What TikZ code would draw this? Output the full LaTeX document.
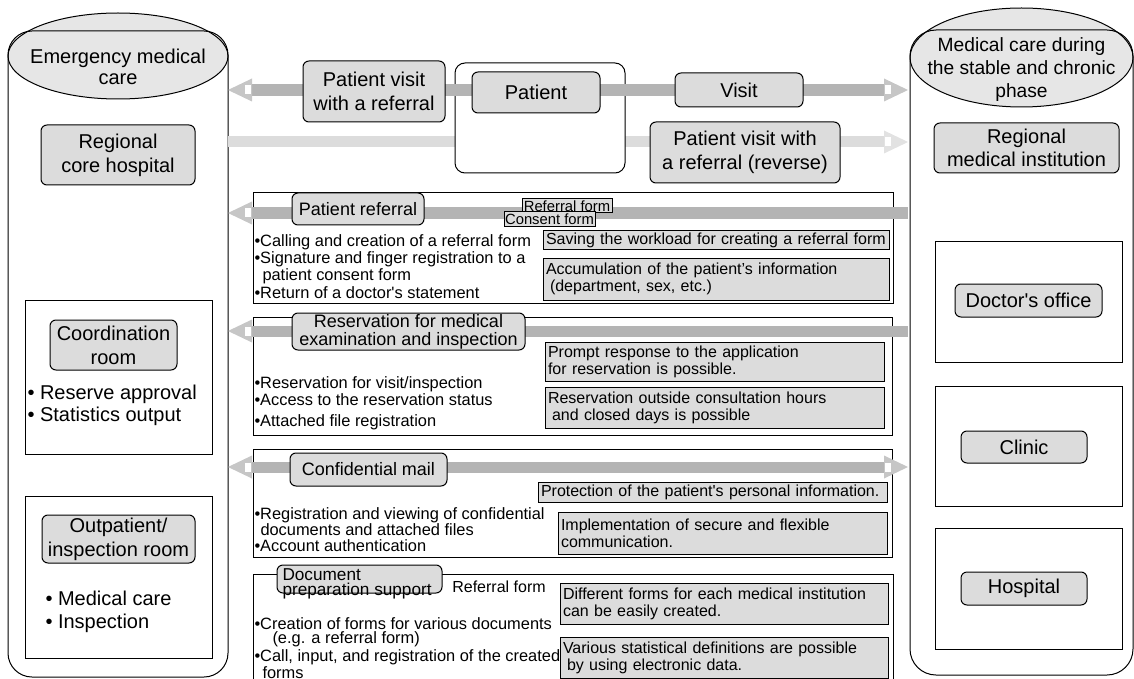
\documentclass[tikz,border=0pt]{standalone}
\usepackage{fontspec}
\setmainfont{Liberation Sans}[Ligatures=TeXOff]
\usetikzlibrary{shapes.geometric}
\definecolor{boxgray}{HTML}{DCDCDC}
\definecolor{ellgray}{HTML}{E6E6E6}
\definecolor{bardark}{HTML}{B4B4B4}
\definecolor{headdark}{HTML}{C6C6C6}
\definecolor{barlight}{HTML}{DCDCDC}
\definecolor{headlight}{HTML}{E2E2E2}
\newcommand\setfs[2]{\fontsize{#1}{#2}\selectfont}
\tikzset{
  lbl/.style={draw=black, fill=boxgray, rounded corners=3pt, align=center, inner sep=0pt, font=\setfs{10}{12}},
  plbl/.style={lbl, font=\setfs{9}{9.5}},
  info/.style={draw=black, fill=boxgray, inner xsep=1.5pt, inner ysep=0pt, align=left, font=\setfs{8}{8.5}},
  tagbox/.style={draw=black, fill=boxgray, inner sep=0pt, font=\setfs{7.4}{7.4}},
  bullets/.style={anchor=north west, align=left, inner sep=0pt, font=\setfs{8.2}{7}},
  roomtxt/.style={anchor=west, align=left, inner sep=0pt, font=\setfs{10}{11}},
  panel/.style={draw=black, fill=white},
  bardk/.style={draw=bardark, line width=6pt},
  barlt/.style={draw=barlight, line width=5.5pt},
  headL/.pic={\fill[#1] (0,0) -- (24,-11.5) -- (24,11.5) -- cycle;
              \fill[white] (17,-4.5) rectangle (23,4.5);},
  headR/.pic={\fill[#1] (0,0) -- (-24,-11.5) -- (-24,11.5) -- cycle;
              \fill[white] (-17,-4.5) rectangle (-23,4.5);},
}
\begin{document}
\begin{tikzpicture}[x=0.5pt,y=-0.5pt,line width=0.5pt]
\useasboundingbox (0,0) rectangle (1134,679);

% ---------- the two care domains (cylinders) ----------
\node[ellipse, draw, fill=ellgray, minimum width=110pt, minimum height=43pt, inner sep=0pt] (emerg) at (118,56) {};
\node[align=center, inner sep=0pt, font=\setfs{10}{10.5}] (emergtxt) at (118,67) {Emergency medical\\care};
\draw[rounded corners=12pt] (8,31) rectangle (228,677);

\node[ellipse, draw, fill=ellgray, minimum width=111.5pt, minimum height=49.5pt, inner sep=0pt] (chron) at (1021.5,57.5) {};
\node[align=center, inner sep=0pt, font=\setfs{9.6}{11.5}] (chrontxt) at (1021.5,70) {Medical care during\\the stable and chronic\\phase};
\draw[rounded corners=13pt] (910,30) rectangle (1133,675);

% ---------- rooms of the core hospital ----------
\draw (25,300) rectangle (212,454);
\node[lbl, minimum width=63.5pt, minimum height=25pt] (coord) at (113.5,345) {Coordination\\room};
\node[roomtxt] (coordlist) at (27,405) {• Reserve approval\\• Statistics output};

\draw (25,496) rectangle (212,658);
\node[lbl, minimum width=76.5pt, minimum height=24pt] (outpat) at (118.5,539) {Outpatient/\\inspection room};
\node[roomtxt, font=\setfs{10}{11.5}] (outlist) at (45,612) {• Medical care\\• Inspection};

% ---------- regional institutions ----------
\draw (935,242) rectangle (1122,362);
\node[lbl, minimum width=73.5pt, minimum height=16.5pt] (doctor) at (1028.5,300.5) {Doctor's office};
\draw (935,386) rectangle (1122,506);
\node[lbl, minimum width=63pt, minimum height=16pt] (clinic) at (1024,447) {Clinic};
\draw (935,528) rectangle (1122,649);
\node[lbl, minimum width=63pt, minimum height=16.5pt] (hospital) at (1024,588.5) {Hospital};

% ---------- arrow end points ----------
\coordinate (a1l) at (228,90);  \coordinate (a1r) at (908,90);
\coordinate (a2l) at (228,142); \coordinate (a2r) at (908,142);
\coordinate (b1l) at (228,213); \coordinate (b1r) at (908,213);
\coordinate (b2l) at (228,331); \coordinate (b2r) at (908,331);
\coordinate (b3l) at (228,467); \coordinate (b3r) at (908,467);

% ---------- patient flow (top) ----------
\draw[barlt, shorten >=11pt] (a2l) -- (a2r);
\pic at (a2r) {headR=headlight};
\node[draw, fill=white, rounded corners=5pt, minimum width=85pt, minimum height=55pt, inner sep=0pt] (patgroup) at (540,118) {};
\draw[bardk, shorten <=11pt, shorten >=11pt] (a1l) -- (a1r);
\pic at (a1l) {headL=headdark};
\pic at (a1r) {headR=headdark};

\node[lbl, minimum width=71pt, minimum height=30.5pt] (pvisit) at (374,91.5) {Patient visit\\with a referral};
\node[lbl, minimum width=64pt, minimum height=20.5pt] (patient) at (536,92.5) {Patient};
\node[lbl, minimum width=64pt, minimum height=17pt] (visit) at (739,90) {Visit};
\node[lbl, minimum width=95pt, minimum height=30.5pt] (reverse) at (745,152.5) {Patient visit with\\a referral (reverse)};
\node[lbl, minimum width=77pt, minimum height=30pt] (core) at (118,155) {Regional\\core hospital};
\node[lbl, minimum width=92.5pt, minimum height=25pt, font=\setfs{10}{11.5}] (inst) at (1026.5,148) {Regional\\medical institution};

% ---------- panel 1: patient referral ----------
\draw[panel] (253,193) rectangle (893,303);
\draw[bardk, shorten <=11pt] (b1l) -- (b1r);
\pic at (b1l) {headL=headdark};
\node[plbl, minimum width=66pt, minimum height=16pt] (pref) at (358,209) {Patient referral};
\node[tagbox, minimum width=45pt, minimum height=7pt] (tagref) at (567,206) {Referral form};
\node[tagbox, minimum width=45.5pt, minimum height=7.5pt] (tagcons) at (549.5,219.5) {Consent form};
\node[bullets] (list1) at (254,234) {•Calling and creation of a referral form\\•Signature and finger registration to a\\\hspace*{4pt}patient consent form\\•Return of a doctor's statement};
\node[info, text width=170pt, minimum height=9.5pt] (i1) at (716,240.5) {Saving the workload for creating a referral form};
\node[info, text width=170pt, minimum height=21pt] (i2) at (716,279) {Accumulation of the patient’s information\\\hspace*{2pt}(department, sex, etc.)};

% ---------- panel 2: reservation ----------
\draw[panel] (253,317) rectangle (892,435);
\draw[bardk, line width=5.5pt, shorten <=11pt] (b2l) -- (b2r);
\pic at (b2l) {headL=headdark};
\node[plbl, minimum width=116.5pt, minimum height=18.5pt, font=\setfs{9}{9}] (pres) at (408.5,331.5) {Reservation for medical\\examination and inspection};
\node[bullets] (list2) at (254,376) {•Reservation for visit/inspection\\•Access to the reservation status\\[3.5pt]•Attached file registration};
\node[info, text width=166.5pt, minimum height=19.5pt] (i3) at (714.5,361.5) {Prompt response to the application\\for reservation is possible.};
\node[info, text width=166.5pt, minimum height=20.5pt] (i4) at (714.5,407.5) {Reservation outside consultation hours\\\hspace*{2pt}and closed days is possible};

% ---------- panel 3: confidential mail ----------
\draw[panel] (253,449) rectangle (892,557);
\draw[bardk, line width=5.5pt, shorten <=11pt, shorten >=11pt] (b3l) -- (b3r);
\pic at (b3l) {headL=headdark};
\pic at (b3r) {headR=headdark};
\node[plbl, minimum width=78.5pt, minimum height=16.5pt] (pconf) at (368.5,469.5) {Confidential mail};
\node[bullets, font=\setfs{8.2}{8}] (list3) at (254,507) {•Registration and viewing of confidential\\\hspace*{3pt}documents and attached files\\•Account authentication};
\node[info, text width=171.5pt, minimum height=10pt] (i5) at (712.5,492) {Protection of the patient's personal information.};
\node[info, text width=161.5pt, minimum height=21pt] (i6) at (722.5,533) {Implementation of secure and flexible\\communication.};

% ---------- panel 4: document preparation ----------
\draw (253,690) -- (253,574) -- (893,574) -- (893,690);
\node[lbl, rounded corners=3pt, minimum width=82.5pt, minimum height=14pt] (pdoc) at (359.5,579) {};
\node[anchor=west, align=left, inner sep=0pt, font=\setfs{8.6}{5.5}] (pdoctxt) at (282,584) {Document\\preparation support};
\node[inner sep=0pt, font=\setfs{8}{8}] (docref) at (499,587) {Referral form};
\node[bullets, font=\setfs{8.2}{7.2}] (list4) at (254,617) {•Creation of forms for various documents\\\hspace*{9pt}(e.g. a referral form)\\•Call, input, and registration of the created\\\hspace*{4pt}forms};
\node[info, text width=161pt, minimum height=20.5pt] (i7) at (724,603.5) {Different forms for each medical institution\\can be easily created.};
\node[info, text width=161pt, minimum height=20.5pt] (i8) at (724,657.5) {Various statistical definitions are possible\\\hspace*{2pt}by using electronic data.};

\end{tikzpicture}
\end{document}
